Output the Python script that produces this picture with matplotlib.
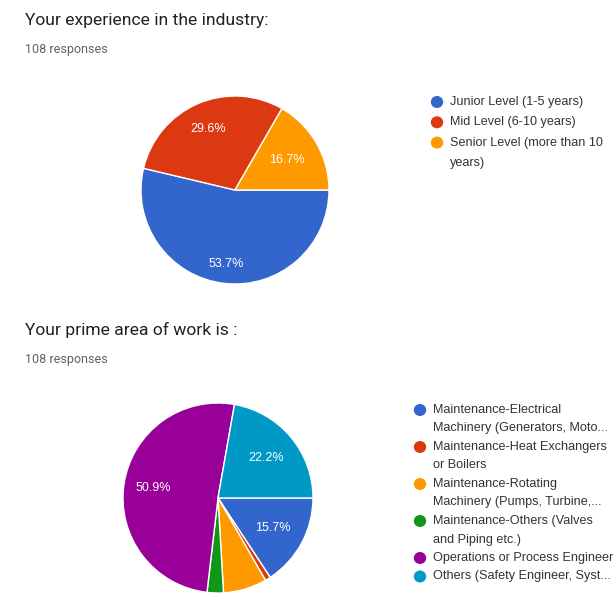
import numpy as np
import matplotlib.pyplot as plt

# survey answers, 108 responses each
exp_labels = ['Junior Level (1-5 years)', 'Mid Level (6-10 years)',
              'Senior Level (more than 10\nyears)']
exp_counts = [58, 32, 18]
exp_colors = ['#3366cc', '#dc3912', '#ff9900']

area_labels = ['Maintenance-Electrical\nMachinery (Generators, Moto...',
               'Maintenance-Heat Exchangers\nor Boilers',
               'Maintenance-Rotating\nMachinery (Pumps, Turbine,...',
               'Maintenance-Others (Valves\nand Piping etc.)',
               'Operations or Process Engineer',
               'Others (Safety Engineer, Syst...']
area_counts = [17, 1, 8, 3, 55, 24]
area_colors = ['#3366cc', '#dc3912', '#ff9900', '#109618', '#990099', '#0099c6']

W, H = 616, 594
fig = plt.figure(figsize=(W / 100, H / 100), dpi=100)
fig.patch.set_facecolor('white')


def px(x, y):
    return x / W, 1 - y / H


def pie_block(cx, cy, r, counts, colors, labels, title, title_y, lx, ly, step, lab_r):
    ax = fig.add_axes([(cx - r) / W, 1 - (cy + r) / H, 2 * r / W, 2 * r / H])
    wedges, _, autotexts = ax.pie(
        counts, colors=colors, startangle=0, counterclock=False,
        autopct=lambda p: f'{p:.1f}%' if p > 10 else '',
        wedgeprops=dict(edgecolor='white', linewidth=1),
        textprops=dict(color='white', fontsize=9, family='Liberation Sans'))
    # push each percentage label to its own radius
    for w, t, d in zip(wedges, autotexts, lab_r):
        a = np.deg2rad((w.theta1 + w.theta2) / 2)
        t.set_position((d * np.cos(a), d * np.sin(a)))
    ax.set_xlim(-1, 1)
    ax.set_ylim(-1, 1)
    ax.set_aspect('auto')
    ax.axis('off')

    fig.text(*px(25, title_y), title, fontsize=12.6, color='#202124',
             family='Roboto', va='center', ha='left')
    fig.text(*px(25, title_y + 30), '108 responses', fontsize=9,
             color='#5f6368', family='Roboto', va='center', ha='left')

    y = ly
    for lab, col in zip(labels, colors):
        fig.patches.append(plt.Circle(px(lx, y), 5.5 / W, color=col,
                                      transform=fig.transFigure))
        lines = lab.split('\n')
        for k, line in enumerate(lines):
            fig.text(*px(lx + 13, y + k * step), line, fontsize=9.1,
                     color='#333333', family='Liberation Sans',
                     va='center', ha='left')
        y += step * len(lines)


pie_block(235, 190, 94, exp_counts, exp_colors, exp_labels,
          'Your experience in the industry:', 20, 437, 102, 20.3,
          [0.79, 0.71, 0.64])
pie_block(218, 498, 95, area_counts, area_colors, area_labels,
          'Your prime area of work is :', 330, 420, 410, 18.5,
          [0.66, 0.7, 0.7, 0.7, 0.69, 0.66])

fig.savefig('out.png', dpi=100, facecolor='white')
